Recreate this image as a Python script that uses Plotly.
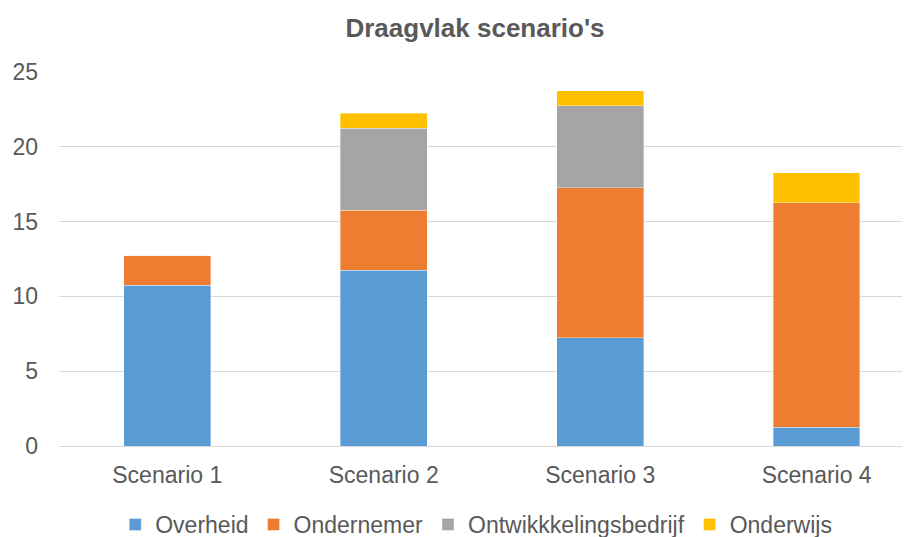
import plotly.graph_objects as go

categories = ["Scenario 1", "Scenario 2", "Scenario 3", "Scenario 4"]
overheid = [10.75, 11.75, 7.25, 1.25]
ondernemer = [2, 4, 10, 15]
ontwikkelingsbedrijf = [0, 5.5, 5.5, 0]
onderwijs = [0, 1, 1, 2]

series = [
    ("Overheid", overheid, "#5B9BD5"),
    ("Ondernemer", ondernemer, "#ED7D31"),
    ("Ontwikkkelingsbedrijf", ontwikkelingsbedrijf, "#A5A5A5"),
    ("Onderwijs", onderwijs, "#FFC000"),
]

fig = go.Figure()
for name, vals, col in series:
    fig.add_trace(go.Bar(
        x=categories, y=vals, name=name,
        marker=dict(color=col, line=dict(color="rgba(255,255,255,0.6)", width=0.6)),
    ))

font = "Liberation Sans, Arial, sans-serif"
fig.update_layout(
    barmode="stack",
    bargap=0.6,
    width=910, height=537,
    margin=dict(l=51, r=0, t=64, b=99, autoexpand=False),
    paper_bgcolor="white", plot_bgcolor="white",
    title=dict(text="<b>Draagvlak scenario's</b>", x=467/910, xanchor="center",
               y=1 - 20/537, yanchor="middle",
               font=dict(family=font, size=26, color="#595959")),
    font=dict(family=font, size=23, color="#595959"),
    xaxis=dict(range=[-0.5, 3.468], showgrid=False, showline=False, ticks="",
               ticklabelstandoff=13,
               tickfont=dict(size=23, color="#595959")),
    yaxis=dict(range=[0, 25], dtick=5, showgrid=True, gridcolor="#D9D9D9", gridwidth=1,
               zeroline=True, zerolinecolor="#D9D9D9", zerolinewidth=1,
               showline=False, ticks="", ticklabelstandoff=20,
               tickfont=dict(size=23, color="#595959")),
    legend=dict(orientation="h", x=442/910, xanchor="center",
                yref="container", y=1 - 495/537, yanchor="top",
                font=dict(size=23, color="#595959"), traceorder="normal",
                itemwidth=30),
    showlegend=True,
)

fig.write_html("out.html")
